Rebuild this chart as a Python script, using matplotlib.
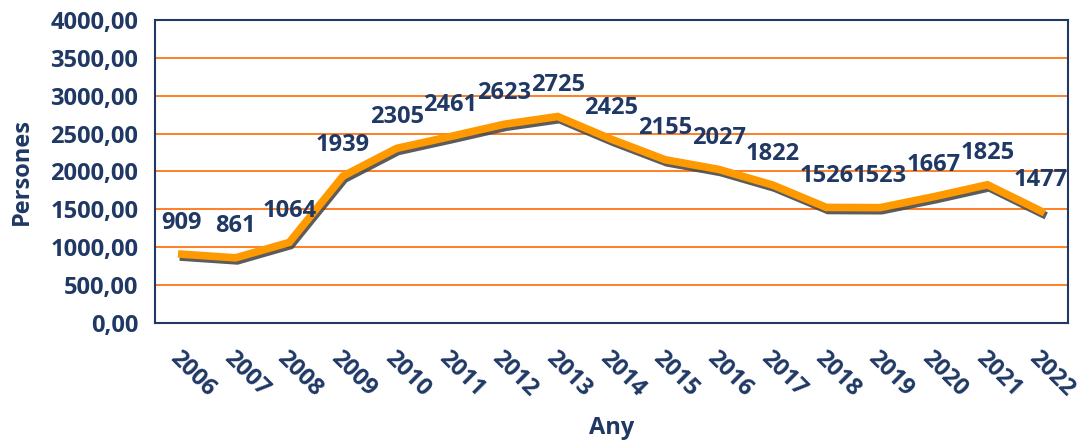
import matplotlib.pyplot as plt
import matplotlib.patheffects as pe

years = ["2006", "2007", "2008", "2009", "2010", "2011", "2012", "2013", "2014",
         "2015", "2016", "2017", "2018", "2019", "2020", "2021", "2022"]
persones = [909, 861, 1064, 1939, 2305, 2461, 2623, 2725, 2425,
            2155, 2027, 1822, 1526, 1523, 1667, 1825, 1477]
yticks = [0, 500, 1000, 1500, 2000, 2500, 3000, 3500, 4000]

navy = "#1F3864"
plt.rcParams['font.family'] = ['Open Sans', 'DejaVu Sans']
plt.rcParams['font.weight'] = 'bold'
fs = 17

fig = plt.figure(figsize=(10.87, 4.42), dpi=100)
ax = fig.add_axes([0.1426, 0.269, 0.8399, 0.686])

x = list(range(len(years)))
ax.plot(x, persones, color="#FF9900", lw=5.5, solid_joinstyle='miter',
        path_effects=[pe.SimpleLineShadow(offset=(1.2, -2.2), shadow_color="#4a4a4a", alpha=0.9),
                      pe.Normal()], zorder=3)

for xi, v in zip(x, persones):
    ax.annotate(str(v), (xi, v), xytext=(0, 14), textcoords='offset points',
                ha='center', va='bottom', color=navy, fontsize=fs, fontweight='bold')

ax.set_xlim(-0.5, len(years) - 0.5)
ax.set_ylim(0, 4000)
ax.set_yticks(yticks)
ax.set_yticklabels([f"{t},00" for t in yticks], color=navy, fontsize=fs, fontweight='bold')
ax.set_xticks(x)
ax.set_xticklabels(years, rotation=-45, ha='left', va='top', rotation_mode='anchor',
                   color=navy, fontsize=fs, fontweight='bold')
ax.tick_params(axis='both', length=0)
ax.tick_params(axis='x', pad=17)
ax.tick_params(axis='y', pad=12)

for t in yticks[1:-1]:
    ax.axhline(t, color="#FF6A00", lw=1.2, zorder=1)

for s in ax.spines.values():
    s.set_color(navy)
    s.set_linewidth(1.5)

ax.set_xlabel("Any", color=navy, fontsize=fs, fontweight='bold', labelpad=10)
ax.set_ylabel("Persones", color=navy, fontsize=fs, fontweight='bold', labelpad=12)

fig.savefig("out.png", dpi=100)
